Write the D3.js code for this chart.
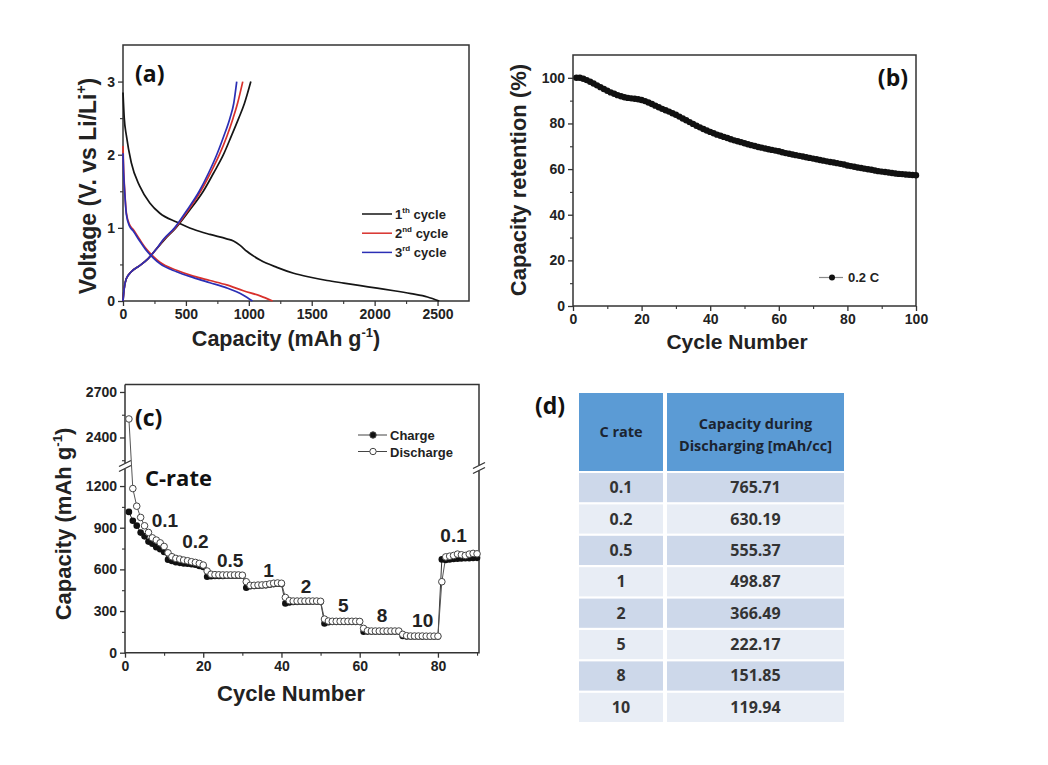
<!DOCTYPE html>
<html><head><meta charset="utf-8">
<script src="https://cdn.jsdelivr.net/npm/d3@7"></script>
<style>body{margin:0;background:#fff}svg{display:block}</style>
</head><body>
<svg id="chart" width="1048" height="765"></svg>
<script>
// ---------------- DATA ----------------
// Panel (a): voltage profiles [capacity mAh/g, voltage V]
const discharge1 = [[0,2.85],[10,2.5],[27,2.26],[66,1.89],[133,1.57],[213,1.34],[293,1.2],[426,1.08],[559,0.98],[691,0.91],[824,0.85],[878,0.82],[931,0.76],[984,0.68],[1090,0.56],[1223,0.46],[1356,0.38],[1490,0.325],[1622,0.28],[1755,0.245],[1888,0.21],[2020,0.175],[2154,0.14],[2290,0.1],[2420,0.055],[2513,0]];
const discharge2 = [[0,2.12],[5,1.8],[13,1.53],[27,1.2],[53,1.04],[80,0.98],[133,0.84],[186,0.71],[240,0.61],[293,0.53],[426,0.42],[559,0.34],[691,0.28],[824,0.22],[957,0.14],[1090,0.07],[1189,0]];
const discharge3 = [[0,2.02],[5,1.75],[13,1.5],[27,1.18],[53,1.02],[80,0.96],[133,0.82],[186,0.69],[240,0.59],[293,0.51],[426,0.4],[559,0.32],[691,0.25],[824,0.18],[957,0.08],[1029,0]];
const charge1 = [[0,0],[8,0.15],[25,0.3],[66,0.4],[130,0.48],[200,0.58],[260,0.7],[330,0.84],[420,1.0],[520,1.22],[638,1.5],[720,1.75],[798,2.0],[860,2.25],[920,2.5],[965,2.7],[1016,3.0]];
const charge2 = [[0,0],[8,0.15],[25,0.3],[66,0.4],[130,0.48],[200,0.58],[260,0.7],[325,0.84],[415,1.0],[510,1.22],[617,1.5],[695,1.75],[766,2.0],[825,2.25],[875,2.5],[910,2.7],[952,3.0]];
const charge3 = [[0,0],[8,0.15],[25,0.3],[66,0.4],[130,0.48],[200,0.58],[260,0.7],[320,0.84],[410,1.0],[500,1.22],[606,1.5],[680,1.75],[745,2.0],[800,2.25],[850,2.5],[880,2.7],[904,3.0]];
const cycleNames = ["1","2","3"];
const cycleSups = ["th","nd","rd"];

// Panel (b): capacity retention (%) for cycles 1..100
const retention = [100,100,99.6,99.0,98.3,97.5,96.7,95.9,95.1,94.3,
93.6,93.0,92.4,91.9,91.5,91.2,91.0,90.8,90.6,90.3,
89.8,89.2,88.5,87.8,87.1,86.4,85.8,85.2,84.5,83.8,
83.0,82.2,81.4,80.6,79.8,79.0,78.3,77.6,76.9,76.3,
75.7,75.1,74.6,74.1,73.6,73.1,72.6,72.2,71.8,71.3,
70.9,70.5,70.1,69.7,69.4,69.0,68.7,68.4,68.1,67.8,
67.4,67.0,66.7,66.4,66.1,65.8,65.5,65.2,64.9,64.6,
64.3,64.0,63.7,63.4,63.1,62.9,62.6,62.3,62.0,61.6,
61.3,61.0,60.7,60.5,60.2,59.9,59.7,59.4,59.1,58.9,
58.7,58.5,58.3,58.1,57.9,57.8,57.6,57.5,57.4,57.3];

// Panel (c): rate capability, cycles 1..90 (mAh/g)
const chargeCap = [1014,950,915,865,838,800,785,760,745,725,
670,660,652,647,643,640,637,633,625,618,
547,550,552,553,553,554,554,555,555,555,
468,478,480,482,484,486,490,494,496,495,
355,362,365,366,367,367,367,368,368,366,
211,220,222,222,222,222,222,222,222,222,
151,152,152,152,152,152,152,152,152,152,
120,117,117,117,117,116,116,116,116,116,
672,668,672,675,676,678,680,680,682,683];
const dischargeCap = [2522,1182,1055,974,914,866,827,811,791,765,
719,691,679,674,667,662,655,650,643,631,
588,565,562,561,560,560,560,560,560,558,
511,485,485,487,488,490,495,500,502,500,
398,375,372,372,372,372,372,372,372,370,
242,228,226,226,226,226,226,226,226,225,
175,158,156,156,156,156,156,156,156,156,
132,122,120,120,120,120,119,119,119,119,
511,690,695,700,710,705,700,710,715,712];
const rateLabels = ["0.1","0.2","0.5","1","2","5","8","10","0.1"];
const rateLabelCycle = [10.2,18.0,26.9,36.7,46.3,55.8,65.7,76.1,84.0];
const rateLabelValue = [904,753,617,545,430,292,221,185,796];

// Panel (d): table
const tableRates = ["0.1","0.2","0.5","1","2","5","8","10"];
const tableCapacity = [765.71,630.19,555.37,498.87,366.49,222.17,151.85,119.94];

// ---------------- DRAWING ----------------
const svg = d3.select("#chart");
svg.append("rect").attr("width",1048).attr("height",765).attr("fill","#fff");
const AX = "'Liberation Sans', Arial, sans-serif";
const OS = "'Open Sans', 'Noto Sans', sans-serif";
const INK = "#222";

function addRich(t, parts, fs){
  let up=false;
  parts.forEach(([s,sup])=>{
    const ts=t.append("tspan").text(s);
    if(sup){ts.attr("font-size",fs*0.6).attr("dy",-fs*0.42);up=true;}
    else if(up){ts.attr("dy",fs*0.42);up=false;}
  });
}
function drawAxis(g, scale, orient, majors, minors, fmt){
  const mk = orient==="bottom"?d3.axisBottom:d3.axisLeft;
  g.call(mk(scale).tickValues(majors).tickSize(5).tickSizeOuter(0).tickPadding(3).tickFormat(fmt));
  g.select(".domain").remove();
  g.selectAll(".tick line").attr("stroke","#333").attr("stroke-width",1.3);
  g.selectAll(".tick text").attr("font-family",AX).attr("font-weight","bold").attr("font-size",14).attr("fill",INK);
  const m=g.append("g").call(mk(scale).tickValues(minors).tickSize(3).tickSizeOuter(0).tickFormat(""));
  m.select(".domain").remove();
  m.selectAll("line").attr("stroke","#333").attr("stroke-width",1.1);
}
function title(x,y,parts,fs,rot){
  const t=svg.append("text").attr("transform",`translate(${x},${y})`+(rot?" rotate(-90)":""))
    .attr("text-anchor","middle").attr("font-family",AX).attr("font-weight","bold").attr("font-size",fs).attr("fill",INK);
  addRich(t,parts,fs);
}
function panelLabel(x,y,s,anchor){
  svg.append("text").attr("x",x).attr("y",y).attr("text-anchor",anchor||"start").attr("font-family",OS)
    .attr("font-weight","bold").attr("font-size",23).attr("fill","#111").text(s);
}

// ===== Panel (a) =====
{
  const x=d3.scaleLinear().domain([0,2750]).range([123,469]);
  const y=d3.scaleLinear().domain([0,3.5]).range([301,45]);
  drawAxis(svg.append("g").attr("transform","translate(0,301)"),x,"bottom",[0,500,1000,1500,2000,2500],[250,750,1250,1750,2250],d3.format("d"));
  drawAxis(svg.append("g").attr("transform","translate(123,0)"),y,"left",[0,1,2,3],[0.5,1.5,2.5],d3.format("d"));
  svg.append("rect").attr("x",123).attr("y",45).attr("width",346).attr("height",256).attr("fill","none").attr("stroke","#333").attr("stroke-width",1.5);
  const line=d3.line().x(d=>x(d[0])).y(d=>y(d[1])).curve(d3.curveMonotoneX);
  const colors=["#151515","#d8312c","#2b2fb5"];
  [[discharge1,charge1],[discharge2,charge2],[discharge3,charge3]].forEach((pair,i)=>{
    pair.forEach(arr=>svg.append("path").attr("d",line(arr)).attr("fill","none").attr("stroke",colors[i]).attr("stroke-width",1.7));
  });
  // legend
  cycleNames.forEach((n,i)=>{
    const ly=214+i*19.2;
    svg.append("line").attr("x1",362).attr("x2",392).attr("y1",ly).attr("y2",ly).attr("stroke",colors[i]).attr("stroke-width",1.5);
    const t=svg.append("text").attr("x",395).attr("y",ly+5).attr("font-family",AX).attr("font-weight","bold").attr("font-size",13).attr("fill",INK);
    t.append("tspan").text(n);
    t.append("tspan").text(cycleSups[i]).attr("font-size",8).attr("dy",-6);
    t.append("tspan").text(" cycle").attr("dy",6);
  });
  panelLabel(135,82,"(a)");
  title(96,186,[["Voltage (V. vs Li/Li",false],["+",true],[")",false]],23,true);
  title(286,346,[["Capacity (mAh g",false],["-1",true],[")",false]],21.5,false);
}

// ===== Panel (b) =====
{
  const x=d3.scaleLinear().domain([0,100]).range([573,916]);
  const y=d3.scaleLinear().domain([0,110]).range([306,55]);
  drawAxis(svg.append("g").attr("transform","translate(0,306)"),x,"bottom",[0,20,40,60,80,100],[10,30,50,70,90],d3.format("d"));
  drawAxis(svg.append("g").attr("transform","translate(573,0)"),y,"left",[0,20,40,60,80,100],[10,30,50,70,90],d3.format("d"));
  svg.append("rect").attr("x",573).attr("y",55).attr("width",343).attr("height",251).attr("fill","none").attr("stroke","#333").attr("stroke-width",1.5);
  const pts=retention.map((v,i)=>[i+1,v]);
  svg.append("path").attr("d",d3.line().x(d=>x(d[0])).y(d=>y(d[1]))(pts)).attr("fill","none").attr("stroke","#111").attr("stroke-width",2.5);
  svg.append("g").selectAll("circle").data(pts).join("circle").attr("cx",d=>x(d[0])).attr("cy",d=>y(d[1])).attr("r",3.2).attr("fill","#111");
  svg.append("line").attr("x1",819).attr("x2",843).attr("y1",277.5).attr("y2",277.5).attr("stroke","#888").attr("stroke-width",1.2);
  svg.append("circle").attr("cx",832).attr("cy",277.5).attr("r",3).attr("fill","#111");
  svg.append("text").attr("x",848).attr("y",282).attr("font-family",AX).attr("font-weight","bold").attr("font-size",13).attr("fill",INK).text("0.2 C");
  panelLabel(908,86,"(b)","end");
  title(526,180,[["Capacity retention (%)",false]],22,true);
  title(737,349,[["Cycle Number",false]],21,false);
}

// ===== Panel (c) =====
{
  const x=d3.scaleLinear().domain([0,90.5]).range([125,479]);
  const yL=d3.scaleLinear().domain([0,1330]).range([652.7,468]);
  const yU=d3.scaleLinear().domain([2200,2750]).range([467.8,384.4]);
  const y=v=>v>=2000?yU(v):yL(v);
  drawAxis(svg.append("g").attr("transform","translate(0,652.7)"),x,"bottom",[0,20,40,60,80],[10,30,50,70,90],d3.format("d"));
  drawAxis(svg.append("g").attr("transform","translate(125,0)"),yL,"left",[0,300,600,900,1200],[150,450,750,1050],d3.format("d"));
  drawAxis(svg.append("g").attr("transform","translate(125,0)"),yU,"left",[2400,2700],[2250,2550],d3.format("d"));
  // frame
  svg.append("path").attr("d",`M125,384.4V652.7H479V384.4H125`).attr("fill","none").attr("stroke","#333").attr("stroke-width",1.5);
  // breaks
  [[125,466],[479,468]].forEach(([bx,by])=>{
    svg.append("rect").attr("x",bx-3).attr("y",by-3).attr("width",6).attr("height",6).attr("fill","#fff");
    [-2.5,2.5].forEach(o=>svg.append("line").attr("x1",bx-6).attr("x2",bx+6).attr("y1",by+o+3).attr("y2",by+o-3).attr("stroke","#333").attr("stroke-width",1.3));
  });
  const cyc=d3.range(1,chargeCap.length+1);
  const line=d3.line().x(d=>x(d[0])).y(d=>y(d[1]));
  const cp=cyc.map((c,i)=>[c,chargeCap[i]]);
  const dp=cyc.map((c,i)=>[c,dischargeCap[i]]);
  svg.append("path").attr("d",line(cp)).attr("fill","none").attr("stroke","#333").attr("stroke-width",1);
  svg.append("path").attr("d",line(dp)).attr("fill","none").attr("stroke","#555").attr("stroke-width",1);
  svg.append("g").selectAll("circle").data(cp).join("circle").attr("cx",d=>x(d[0])).attr("cy",d=>y(d[1])).attr("r",3.3).attr("fill","#111");
  svg.append("g").selectAll("circle").data(dp).join("circle").attr("cx",d=>x(d[0])).attr("cy",d=>y(d[1])).attr("r",3.3).attr("fill","#fff").attr("stroke","#444").attr("stroke-width",1);
  rateLabels.forEach((s,i)=>{
    svg.append("text").attr("x",x(rateLabelCycle[i])).attr("y",y(rateLabelValue[i])).attr("text-anchor","middle")
      .attr("font-family",AX).attr("font-weight","bold").attr("font-size",19).attr("fill",INK).text(s);
  });
  svg.append("text").attr("x",145).attr("y",486).attr("font-family",OS).attr("font-weight","bold").attr("font-size",22).attr("fill","#111").text("C-rate");
  // legend
  [["Charge",435,"#111"],["Discharge",451.5,"#fff"]].forEach(([s,ly,f])=>{
    svg.append("line").attr("x1",358).attr("x2",387).attr("y1",ly).attr("y2",ly).attr("stroke","#444").attr("stroke-width",1);
    svg.append("circle").attr("cx",373).attr("cy",ly).attr("r",3.2).attr("fill",f).attr("stroke","#444").attr("stroke-width",1);
    svg.append("text").attr("x",390).attr("y",ly+5).attr("font-family",AX).attr("font-weight","bold").attr("font-size",13).attr("fill",INK).text(s);
  });
  panelLabel(135,426,"(c)");
  title(71,524,[["Capacity (mAh g",false],["-1",true],[")",false]],22,true);
  title(291,701,[["Cycle Number",false]],22,false);
}

// ===== Panel (d): table =====
{
  panelLabel(535,414,"(d)");
  const c1=[579,663], c2=[667,844];
  const hdr=[393,471];
  const HC="#1c2430";
  [c1,c2].forEach(c=>svg.append("rect").attr("x",c[0]).attr("y",hdr[0]).attr("width",c[1]-c[0]).attr("height",hdr[1]-hdr[0]).attr("fill","#5b9bd5"));
  svg.append("text").attr("x",(c1[0]+c1[1])/2).attr("y",437).attr("text-anchor","middle").attr("font-family",OS).attr("font-weight",700).attr("font-size",14.5).attr("fill",HC).text("C rate");
  svg.append("text").attr("x",(c2[0]+c2[1])/2).attr("y",429).attr("text-anchor","middle").attr("font-family",OS).attr("font-weight",700).attr("font-size",14.5).attr("fill",HC).text("Capacity during");
  svg.append("text").attr("x",(c2[0]+c2[1])/2).attr("y",451).attr("text-anchor","middle").attr("font-family",OS).attr("font-weight",700).attr("font-size",14.5).attr("fill",HC).text("Discharging [mAh/cc]");
  const rows=d3.scaleBand().domain(tableRates).range([473,722]).paddingInner(0.07);
  tableRates.forEach((r,i)=>{
    const fill=i%2===0?"#cdd8ea":"#e8edf5";
    const ry=rows(r), h=rows.bandwidth();
    [c1,c2].forEach(c=>svg.append("rect").attr("x",c[0]).attr("y",ry).attr("width",c[1]-c[0]).attr("height",h).attr("fill",fill));
    svg.append("text").attr("x",(c1[0]+c1[1])/2).attr("y",ry+h/2+5.5).attr("text-anchor","middle").attr("font-family",OS).attr("font-weight",700).attr("font-size",16).attr("fill","#333").text(r);
    svg.append("text").attr("x",(c2[0]+c2[1])/2).attr("y",ry+h/2+5.5).attr("text-anchor","middle").attr("font-family",OS).attr("font-weight",700).attr("font-size",16).attr("fill","#333").text(d3.format(".2f")(tableCapacity[i]));
  });
}
</script>
</body></html>
